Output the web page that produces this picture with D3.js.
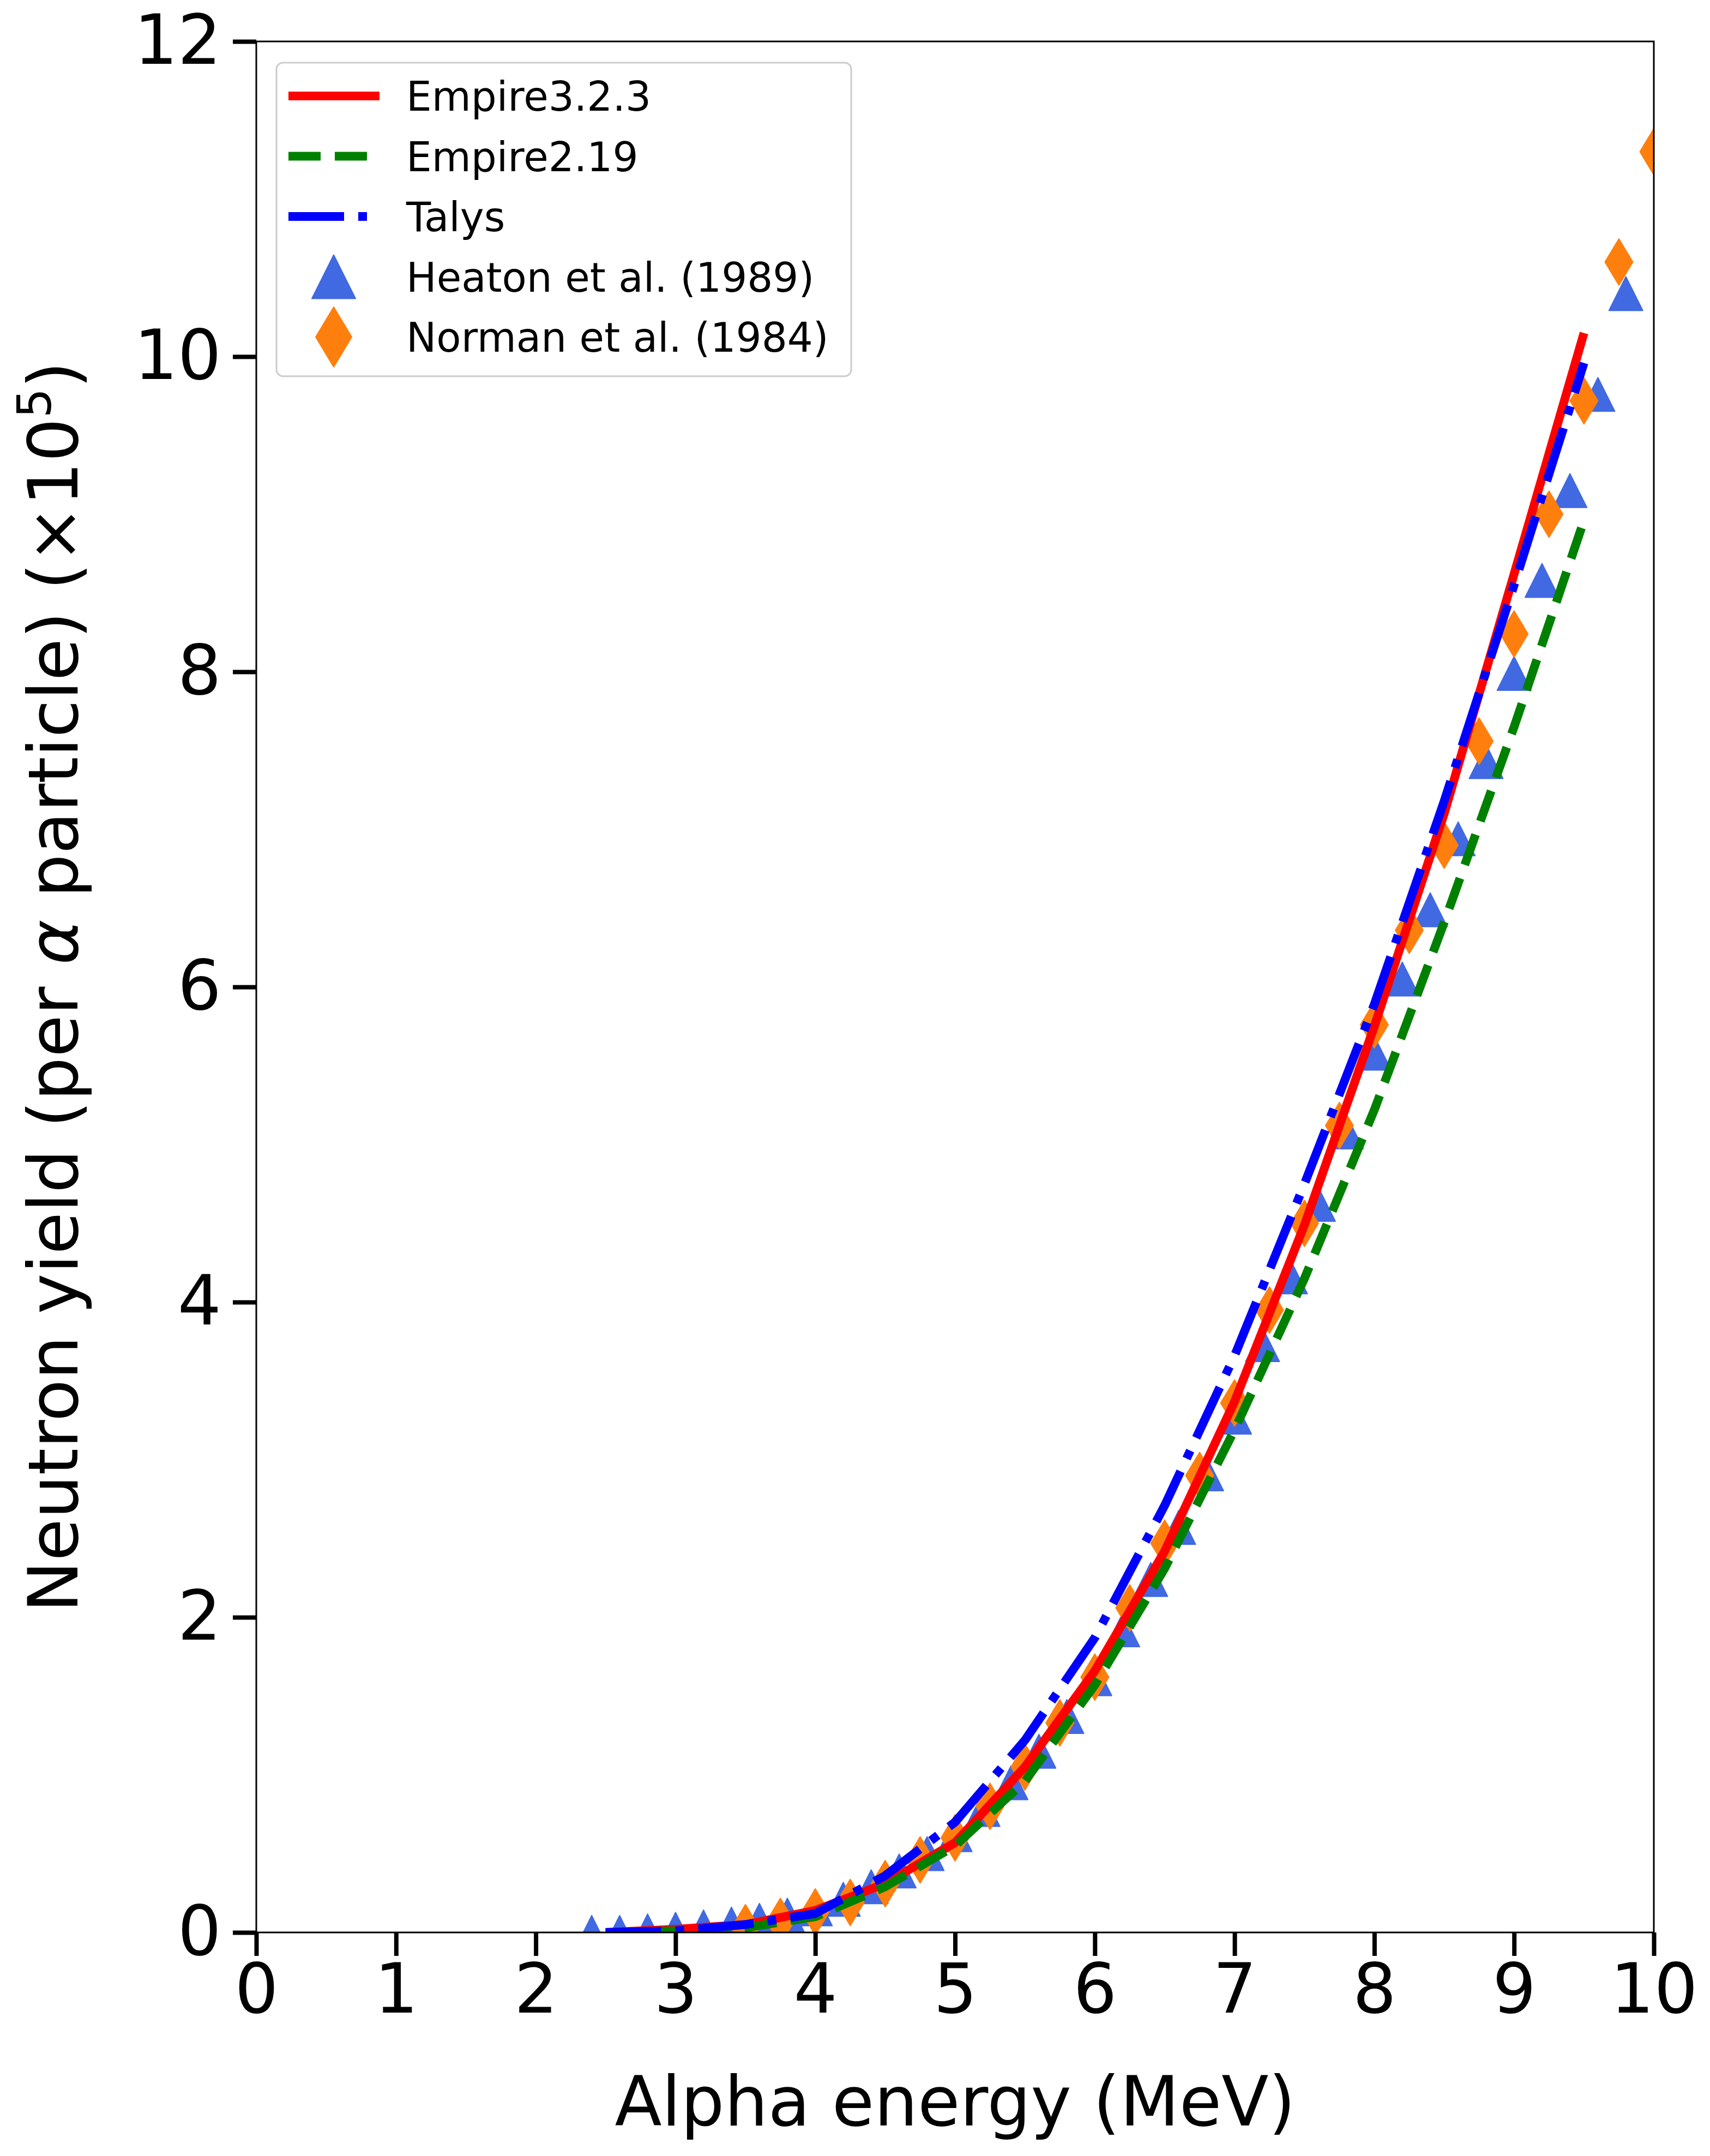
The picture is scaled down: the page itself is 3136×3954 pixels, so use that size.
<!DOCTYPE html>
<html>
<head>
<meta charset="utf-8">
<script src="https://d3js.org/d3.v7.min.js"></script>
<style>body{margin:0;background:#fff}</style>
</head>
<body>
<script>
var width = 3136, height = 3954;
var plotL = 470, plotR = 3033, plotT = 76, plotB = 3544;

// model curves, yield in units of 1e5 per alpha
var modelEnergy = [2.5,3.0,3.5,4.0,4.5,5.0,5.5,6.0,6.5,7.0,7.5,8.0,8.5,9.0,9.5];
var empire323 = [0.00,0.02,0.05,0.14,0.31,0.57,1.05,1.66,2.42,3.37,4.49,5.75,7.10,8.62,10.15];
var empire219 = [0.00,0.01,0.03,0.10,0.29,0.55,0.96,1.57,2.31,3.19,4.15,5.22,6.41,7.65,8.96];
var talys = [0.00,0.01,0.05,0.12,0.36,0.70,1.22,1.87,2.71,3.66,4.75,5.89,7.18,8.55,9.96];

// measurements
var heatonEnergy = [2.4,2.6,2.8,3.0,3.2,3.4,3.6,3.8,4.0,4.2,4.4,4.6,4.8,5.0,5.2,5.4,5.6,5.8,6.0,6.2,
  6.4,6.6,6.8,7.0,7.2,7.4,7.6,7.8,8.0,8.2,8.4,8.6,8.8,9.0,9.2,9.4,9.6,9.8];
var heatonYield = [0.0,0.0,0.01,0.02,0.035,0.053,0.077,0.11,0.15,0.21,0.29,0.39,0.50,0.62,0.78,0.95,1.15,1.37,1.61,1.92,
  2.24,2.57,2.91,3.27,3.73,4.16,4.62,5.08,5.58,6.05,6.49,6.94,7.43,7.99,8.58,9.15,9.76,10.40];
var normanEnergy = [3.5,3.75,4.0,4.25,4.5,4.75,5.0,5.25,5.5,5.75,6.0,6.25,6.5,6.75,7.0,7.25,7.5,7.75,
  8.0,8.25,8.5,8.75,9.0,9.25,9.5,9.75,10.0];
var normanYield = [0.03,0.07,0.13,0.19,0.31,0.46,0.60,0.80,1.05,1.33,1.62,2.06,2.47,2.90,3.36,3.95,4.50,5.12,
  5.76,6.36,6.90,7.56,8.24,9.00,9.72,10.60,11.30];

var xTicks = [0,1,2,3,4,5,6,7,8,9,10];
var yTicks = [0,2,4,6,8,10,12];
var legendNames = ["Empire3.2.3","Empire2.19","Talys","Heaton et al. (1989)","Norman et al. (1984)"];

var svg = d3.select("body").append("svg")
  .attr("width",width).attr("height",height)
  .style("font-family","'DejaVu Sans'");
svg.append("rect").attr("width",width).attr("height",height).attr("fill","#fff");

var x = d3.scaleLinear().domain([0,10]).range([plotL,plotR]);
var y = d3.scaleLinear().domain([0,12]).range([plotB,plotT]);

svg.append("clipPath").attr("id","plotclip").append("rect")
  .attr("x",plotL).attr("y",plotT).attr("width",plotR-plotL).attr("height",plotB-plotT);
var plot = svg.append("g").attr("clip-path","url(#plotclip)");

function tri(s){ return "M0,"+(-s)+"L"+s+","+s+"L"+(-s)+","+s+"Z"; }
function dia(w,h){ return "M0,"+(-h)+"L"+w+",0L0,"+h+"L"+(-w)+",0Z"; }

plot.selectAll(".heaton").data(heatonEnergy).enter().append("path")
  .attr("class","heaton")
  .attr("d",tri(31))
  .attr("transform",function(d,i){ return "translate("+x(d)+","+y(heatonYield[i])+")"; })
  .attr("fill","#4169e1").attr("stroke","#4169e1").attr("stroke-width",2).attr("stroke-linejoin","round");

plot.selectAll(".norman").data(normanEnergy).enter().append("path")
  .attr("class","norman")
  .attr("d",dia(25.5,42.5))
  .attr("transform",function(d,i){ return "translate("+x(d)+","+y(normanYield[i])+")"; })
  .attr("fill","#ff7f0e").attr("stroke","#ff7f0e").attr("stroke-width",2).attr("stroke-linejoin","round");

var models = [
  {values:empire323, color:"#ff0000", dash:null},
  {values:empire219, color:"#008000", dash:"59,26"},
  {values:talys, color:"#0000ff", dash:"102,26,16,26"}
];
var line = d3.line()
  .x(function(d,i){ return x(modelEnergy[i]); })
  .y(function(d){ return y(d); });

models.forEach(function(m){
  plot.append("path").attr("d",line(m.values))
    .attr("fill","none").attr("stroke",m.color).attr("stroke-width",16)
    .attr("stroke-dasharray",m.dash).attr("stroke-linejoin","round");
});

// frame
svg.append("rect").attr("x",plotL).attr("y",plotT).attr("width",plotR-plotL).attr("height",plotB-plotT)
  .attr("fill","none").attr("stroke","#000").attr("stroke-width",3);

var gx = svg.append("g").attr("transform","translate(0,"+plotB+")")
  .call(d3.axisBottom(x).tickValues(xTicks).tickSize(43).tickSizeOuter(0).tickPadding(15).tickFormat(d3.format("d")));
gx.attr("font-size",126).attr("font-family","'DejaVu Sans'");
gx.select(".domain").remove();
gx.selectAll("line").attr("stroke","#000").attr("stroke-width",8);
gx.selectAll("text").attr("fill","#000");

var gy = svg.append("g").attr("transform","translate("+plotL+",0)")
  .call(d3.axisLeft(y).tickValues(yTicks).tickSize(43).tickSizeOuter(0).tickPadding(21).tickFormat(d3.format("d")));
gy.attr("font-size",126).attr("font-family","'DejaVu Sans'");
gy.select(".domain").remove();
gy.selectAll("line").attr("stroke","#000").attr("stroke-width",8);
gy.selectAll("text").attr("fill","#000");

// axis titles
svg.append("text").attr("x",(plotL+plotR)/2).attr("y",3898)
  .attr("text-anchor","middle").attr("font-size",126).text("Alpha energy (MeV)");

var yl = svg.append("text").attr("transform","translate(142,1810) rotate(-90)")
  .attr("text-anchor","middle").attr("font-size",126);
yl.append("tspan").text("Neutron yield (per ");
yl.append("tspan").attr("font-style","italic").text("α");
yl.append("tspan").text(" particle) (×10");
yl.append("tspan").attr("font-size",86).attr("dy",-49).text("5");
yl.append("tspan").attr("dy",49).text(")");

// legend
var leg = svg.append("g");
leg.append("rect").attr("x",507).attr("y",115).attr("width",1054).attr("height",575).attr("rx",12)
  .attr("fill","#fff").attr("fill-opacity",0.8).attr("stroke","#cccccc").attr("stroke-width",3);

var rowY = function(i){ return 176 + i*110.5; };
models.forEach(function(m,i){
  leg.append("line").attr("x1",529).attr("x2",696).attr("y1",rowY(i)).attr("y2",rowY(i))
    .attr("stroke",m.color).attr("stroke-width",16).attr("stroke-dasharray",m.dash);
});
leg.append("path").attr("d",tri(40)).attr("transform","translate(612,"+rowY(3)+")")
  .attr("fill","#4169e1").attr("stroke","#4169e1").attr("stroke-width",2).attr("stroke-linejoin","round");
leg.append("path").attr("d",dia(33,55)).attr("transform","translate(612,"+rowY(4)+")")
  .attr("fill","#ff7f0e").attr("stroke","#ff7f0e").attr("stroke-width",2).attr("stroke-linejoin","round");

leg.selectAll(".lt").data(legendNames).enter().append("text")
  .attr("class","lt")
  .attr("x",745).attr("y",function(d,i){ return rowY(i)+27; })
  .attr("font-size",74).text(function(d){ return d; });
</script>
</body>
</html>
